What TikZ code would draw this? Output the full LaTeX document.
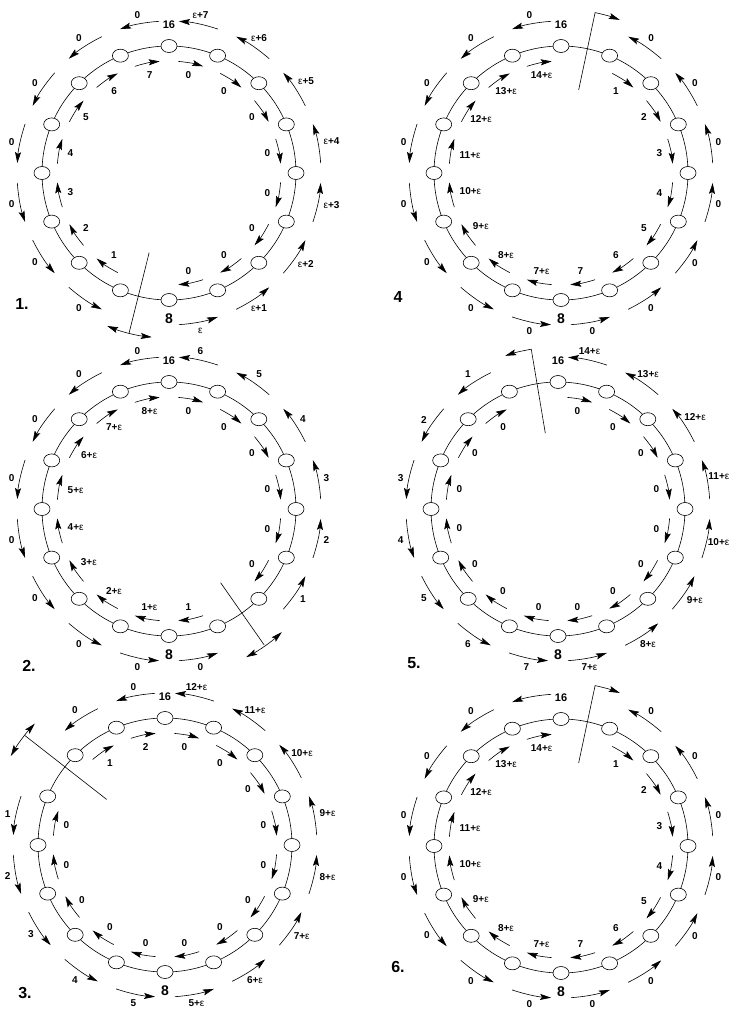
\documentclass[tikz,border=0pt]{standalone}
\usepackage{fontspec}
\setmainfont{Liberation Sans}
\usetikzlibrary{arrows.meta,shapes.geometric}
\newcommand{\ep}{{\mdseries ε}}
\tikzset{
  ring/.style={line width=0.6pt},
  nd/.style={ellipse, draw, line width=0.6pt, fill=white, minimum width=16pt, minimum height=13pt, inner sep=0pt},
  skt/.tip={Stealth[length=11pt,width=6pt,inset=2pt]},
  arr/.style={line width=0.6pt, -skt},
  darr/.style={line width=0.6pt, skt-skt},
  cutl/.style={line width=0.6pt},
  lab/.style={font=\fontsize{10}{12}\selectfont\bfseries, inner sep=0.5pt},
  num16/.style={font=\fontsize{11}{13}\selectfont\bfseries, inner sep=0pt},
  num8/.style={font=\fontsize{14}{16}\selectfont\bfseries, inner sep=0pt},
  plab/.style={font=\fontsize{16}{18}\selectfont\bfseries, inner sep=0pt},
}
\newcommand{\Ring}[3]{%
  \begin{scope}[shift={(#2,-#3)}]
    \draw[ring] (0,0) circle[radius=127];
    \foreach \kk in {0,...,15}{\node[nd] (#1n\kk) at ({90-22.5*\kk}:127) {};}
    \node[num16] (#1t) at (90:148) {16};
    \node[num8] (#1b) at (-90:146) {8};
  \end{scope}}
\newcommand{\Inner}[4]{%
  \begin{scope}[shift={(#2,-#3)}]
    \foreach \sg/\dr/\lb in {#4}{%
      \pgfmathsetmacro\pM{90-22.5*(\sg+0.5)}%
      \pgfmathsetmacro\pA{\pM+6.5*(\dr)}%
      \pgfmathsetmacro\pB{\pM-6.5*(\dr)}%
      \draw[arr] (\pA:112) arc[start angle=\pA, end angle=\pB, radius=112];
      \node[lab, anchor=\pM] (#1i\sg) at (\pM:104) {\lb};
    }
  \end{scope}}
\newcommand{\Outer}[4]{%
  \begin{scope}[shift={(#2,-#3)}]
    \foreach \sg/\dr/\lb in {#4}{%
      \pgfmathsetmacro\pM{90-22.5*(\sg+0.5)}%
      \pgfmathsetmacro\pA{\pM+7.5*(\dr)}%
      \pgfmathsetmacro\pB{\pM-7.5*(\dr)}%
      \pgfmathsetmacro\pO{\pM+180}%
      \draw[arr] (\pA:152) arc[start angle=\pA, end angle=\pB, radius=152];
      \node[lab, anchor=\pO] (#1o\sg) at (\pM:157) {\lb};
    }
  \end{scope}}
\begin{document}
\begin{tikzpicture}[x=1pt,y=1pt]
\fill[white] (0,0) rectangle (731,-1013);
\useasboundingbox (0,0) rectangle (731,-1013);

% ---------- panel 1 ----------
\Inner{A}{169}{173}{0/1/0,1/1/0,2/1/0,3/1/0,4/1/0,5/1/0,6/1/0,7/1/0,9/1/1,10/1/2,11/1/3,12/1/4,13/1/5,14/1/6,15/1/7}
\Outer{A}{169}{173}{0/-1/\ep+7,1/-1/\ep+6,2/-1/\ep+5,3/-1/\ep+4,4/-1/\ep+3,5/-1/\ep+2,6/-1/\ep+1,7/-1/\ep,9/-1/0,10/-1/0,11/-1/0,12/-1/0,13/-1/0,14/-1/0,15/-1/0}
\Ring{A}{169}{173}
\begin{scope}[shift={(169,-173)}]
  \coordinate (Aca) at (-104:82); \coordinate (Acb) at (-104:165);
  \draw[cutl] (Aca) -- (Acb);
  \draw[darr] (-112:165) arc[start angle=-112, end angle=-96, radius=165];
\end{scope}
\node[plab] (L1) at (22,-304) {1.};

% ---------- panel 2 ----------
\Inner{B}{169}{509}{0/1/0,1/1/0,2/1/0,3/1/0,4/1/0,5/1/0,7/1/1,8/1/1+\ep,9/1/2+\ep,10/1/3+\ep,11/1/4+\ep,12/1/5+\ep,13/1/6+\ep,14/1/7+\ep,15/1/8+\ep}
\Outer{B}{169}{509}{0/-1/6,1/-1/5,2/-1/4,3/-1/3,4/-1/2,5/-1/1,7/-1/0,8/-1/0,9/-1/0,10/-1/0,11/-1/0,12/-1/0,13/-1/0,14/-1/0,15/-1/0}
\Ring{B}{169}{509}
\begin{scope}[shift={(169,-509)}]
  \coordinate (Bca) at (-55:90); \coordinate (Bcb) at (-55:166);
  \draw[cutl] (Bca) -- (Bcb);
  \draw[darr] (-62.5:167) arc[start angle=-62.5, end angle=-47.5, radius=167];
\end{scope}
\node[plab] (L2) at (29,-666) {2.};

% ---------- panel 3 ----------
\Inner{C}{165}{845}{0/1/0,1/1/0,2/1/0,3/1/0,4/1/0,5/1/0,6/1/0,7/1/0,8/1/0,9/1/0,10/1/0,11/1/0,12/1/0,14/1/1,15/1/2}
\Outer{C}{165}{845}{0/-1/12+\ep,1/-1/11+\ep,2/-1/10+\ep,3/-1/9+\ep,4/-1/8+\ep,5/-1/7+\ep,6/-1/6+\ep,7/-1/5+\ep,8/-1/5,9/-1/4,10/-1/3,11/-1/2,12/-1/1,14/-1/0,15/-1/0}
\Ring{C}{165}{845}
\begin{scope}[shift={(165,-845)}]
  \coordinate (Cca) at (142:74); \coordinate (Ccb) at (142:178);
  \draw[cutl] (Cca) -- (Ccb);
  \draw[darr] (137:178) arc[start angle=137, end angle=150, radius=178];
\end{scope}
\node[plab] (L3) at (25,-993) {3.};

% ---------- panel 4 ----------
\Inner{D}{561}{173}{1/1/1,2/1/2,3/1/3,4/1/4,5/1/5,6/1/6,7/1/7,8/1/7+\ep,9/1/8+\ep,10/1/9+\ep,11/1/10+\ep,12/1/11+\ep,13/1/12+\ep,14/1/13+\ep,15/1/14+\ep}
\Outer{D}{561}{173}{1/-1/0,2/-1/0,3/-1/0,4/-1/0,5/-1/0,6/-1/0,7/-1/0,8/-1/0,9/-1/0,10/-1/0,11/-1/0,12/-1/0,13/-1/0,14/-1/0,15/-1/0}
\Ring{D}{561}{173}
\begin{scope}[shift={(561,-173)}]
  \coordinate (Dca) at (78:85); \coordinate (Dcb) at (78:164);
  \draw[arr] (Dca) -- (Dcb) arc[start angle=78, end angle=69, radius=164];
\end{scope}
\node[plab] (L4) at (398,-297) {4};

% ---------- panel 5 ----------
\Inner{E}{558}{509}{0/1/0,1/1/0,2/1/0,3/1/0,4/1/0,5/1/0,6/1/0,7/1/0,8/1/0,9/1/0,10/1/0,11/1/0,12/1/0,13/1/0,14/1/0}
\Outer{E}{558}{509}{0/-1/14+\ep,1/-1/13+\ep,2/-1/12+\ep,3/-1/,4/-1/,5/-1/9+\ep,6/-1/8+\ep,7/-1/7+\ep,8/-1/7,9/-1/6,10/-1/5,11/-1/4,12/-1/3,13/-1/2,14/-1/1}
\node[lab, anchor=east] (E3x) at (730,-476) {11+\ep};
\node[lab, anchor=east] (E4x) at (730,-542) {10+\ep};
\Ring{E}{558}{509}
\begin{scope}[shift={(558,-509)}]
  \coordinate (Eca) at (99.5:77); \coordinate (Ecb) at (99.5:162);
  \draw[arr] (Eca) -- (Ecb) arc[start angle=99.5, end angle=109, radius=162];
\end{scope}
\node[plab] (L5) at (414,-663) {5.};

% ---------- panel 6 ----------
\Inner{F}{561}{846}{1/1/1,2/1/2,3/1/3,4/1/4,5/1/5,6/1/6,7/1/7,8/1/7+\ep,9/1/8+\ep,10/1/9+\ep,11/1/10+\ep,12/1/11+\ep,13/1/12+\ep,14/1/13+\ep,15/1/14+\ep}
\Outer{F}{561}{846}{1/-1/0,2/-1/0,3/-1/0,4/-1/0,5/-1/0,6/-1/0,7/-1/0,8/-1/0,9/-1/0,10/-1/0,11/-1/0,12/-1/0,13/-1/0,14/-1/0,15/-1/}
\Ring{F}{561}{846}
\begin{scope}[shift={(561,-846)}]
  \coordinate (Fca) at (78:85); \coordinate (Fcb) at (78:164);
  \draw[arr] (Fca) -- (Fcb) arc[start angle=78, end angle=69, radius=164];
\end{scope}
\node[plab] (L6) at (398,-967) {6.};
\end{tikzpicture}
\end{document}
